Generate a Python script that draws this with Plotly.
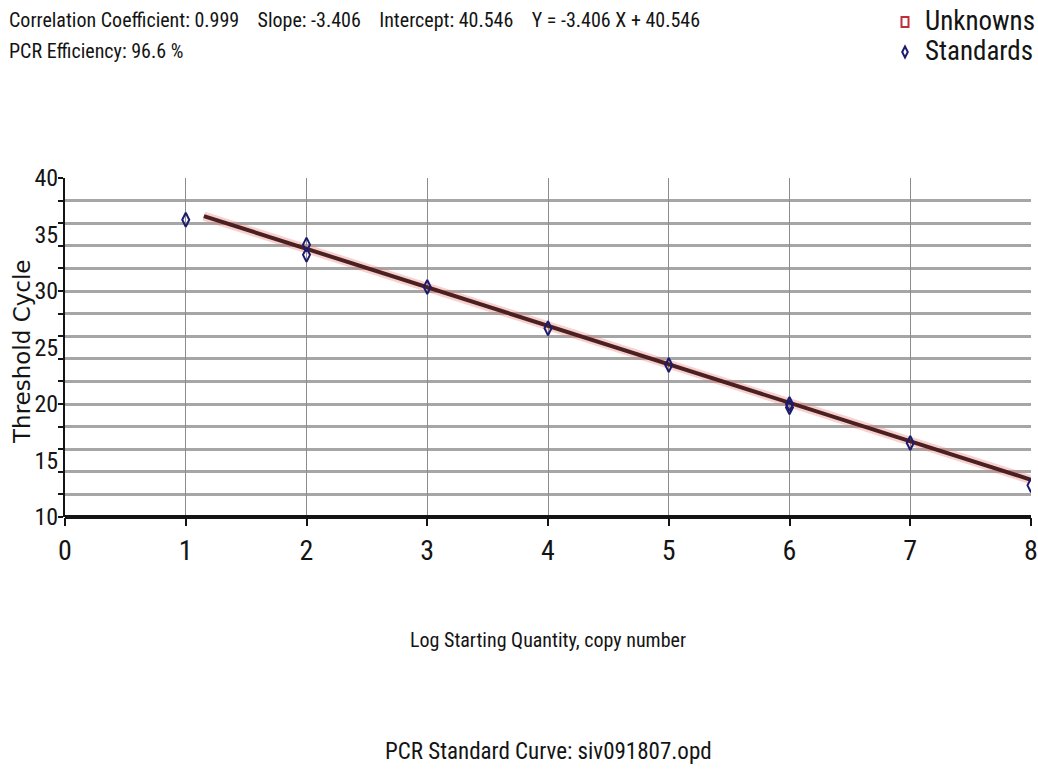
import plotly.graph_objects as go

# Standards: log starting quantity vs threshold cycle
std_log_qty = [1, 2, 2, 3, 4, 5, 6, 6, 7, 8]
std_ct = [36.3, 34.1, 33.2, 30.35, 26.7, 23.45, 20.0, 19.7, 16.55, 12.8]

# Unknown samples (none in this run)
unk_log_qty = []
unk_ct = []

# Regression results
corr_coef = 0.999
slope = -3.406
intercept = 40.546
efficiency = 96.6
fit_x = [1.15, 8.0]

x_ticks = [0, 1, 2, 3, 4, 5, 6, 7, 8]
y_ticks = [10, 15, 20, 25, 30, 35, 40]

FONT = "Roboto Condensed, Liberation Sans Narrow, sans-serif"
INK = "#141414"

fit_y = [slope * x + intercept for x in fit_x]

fig = go.Figure()

# soft halo under the regression line
fig.add_trace(go.Scatter(x=fit_x, y=fit_y, mode="lines",
                         line=dict(color="rgba(235,120,120,0.35)", width=9),
                         hoverinfo="skip", showlegend=False))
fig.add_trace(go.Scatter(x=fit_x, y=fit_y, mode="lines",
                         line=dict(color="#4a2020", width=4),
                         showlegend=False, name="Fit"))

fig.add_trace(go.Scatter(x=unk_log_qty, y=unk_ct, mode="markers", name="Unknowns",
                         showlegend=False,
                         marker=dict(symbol="square-open", color="#c0303a", size=8,
                                     line=dict(width=2))))
fig.add_trace(go.Scatter(x=std_log_qty, y=std_ct, mode="markers", name="Standards",
                         showlegend=False,
                         marker=dict(symbol="diamond-tall-open", color="#1c1c6e", size=10,
                                     line=dict(width=2))))

W, H = 1038, 780
L, R, T, B = 65, 1031, 178, 517


def px(x):
    return (x - L) / (R - L)


def py(y):
    return (B - y) / (B - T)


sp = "&nbsp;" * 4
annotations = [
    dict(text=f"Correlation Coefficient: {corr_coef}{sp}Slope: {slope}{sp}"
              f"Intercept: {intercept}{sp}Y = {slope} X + {intercept}",
         x=px(7), y=py(20), xanchor="left", yanchor="middle",
         font=dict(size=20, color=INK)),
    dict(text=f"PCR Efficiency: {efficiency} %",
         x=px(7), y=py(51), xanchor="left", yanchor="middle",
         font=dict(size=20, color=INK)),
    dict(text="Unknowns", x=px(923), y=py(21), xanchor="left", yanchor="middle",
         font=dict(size=27, color=INK)),
    dict(text="Standards", x=px(923), y=py(51), xanchor="left", yanchor="middle",
         font=dict(size=27, color=INK)),
    dict(text="Log Starting Quantity, copy number",
         x=px(548), y=py(640), xanchor="center", yanchor="middle",
         font=dict(size=20, color=INK)),
    dict(text="PCR Standard Curve: siv091807.opd",
         x=px(548), y=py(751), xanchor="center", yanchor="middle",
         font=dict(size=23, color=INK)),
    dict(text="Threshold Cycle", textangle=-90,
         x=px(22), y=py(352), xanchor="center", yanchor="middle",
         font=dict(size=23, color=INK, family="DejaVu Sans")),
]
for a in annotations:
    a.update(xref="paper", yref="paper", showarrow=False)

# legend symbols
ux, uy = px(905), py(22)
sx, sy = px(905), py(52)
dx = 3.5 / (R - L)
dy = 5.5 / (B - T)
shapes = [
    dict(type="rect", xref="paper", yref="paper",
         x0=ux - dx, x1=ux + dx, y0=uy - dy * 0.9, y1=uy + dy * 0.9,
         line=dict(color="#c0303a", width=2), fillcolor="rgba(0,0,0,0)"),
    dict(type="path", xref="paper", yref="paper",
         path=f"M {sx},{sy + dy} L {sx + dx * 0.8},{sy} L {sx},{sy - dy} L {sx - dx * 0.8},{sy} Z",
         line=dict(color="#1c1c6e", width=2), fillcolor="rgba(0,0,0,0)"),
    # heavy baseline along the bottom of the plot area
    dict(type="line", xref="paper", yref="paper", x0=0, x1=1, y0=0, y1=0,
         line=dict(color=INK, width=4), layer="above"),
]

fig.update_layout(
    width=W, height=H,
    margin=dict(l=L, r=W - R, t=T, b=H - B),
    paper_bgcolor="white", plot_bgcolor="white",
    font=dict(family=FONT, color=INK),
    annotations=annotations,
    shapes=shapes,
    showlegend=False,
    xaxis=dict(range=[0, 8], tickvals=x_ticks, ticks="outside", ticklen=8,
               tickcolor=INK, tickwidth=2, ticklabelstandoff=0,
               ticklabeloverflow="allow", automargin=False,
               tickfont=dict(size=28), showgrid=True, gridcolor="#8c8c8c",
               gridwidth=1, zeroline=False, showline=False),
    yaxis=dict(range=[10, 40], tickvals=y_ticks, ticks="", tickfont=dict(size=24),
               showgrid=False, zeroline=False, showline=True, linecolor=INK,
               linewidth=2, ticklabelstandoff=0, automargin=False,
               minor=dict(tick0=10, dtick=2, showgrid=True, gridcolor="#a6a6a6",
                          gridwidth=3, ticks="outside", ticklen=5,
                          tickcolor=INK, tickwidth=2)),
)

fig.write_html("out.html")
